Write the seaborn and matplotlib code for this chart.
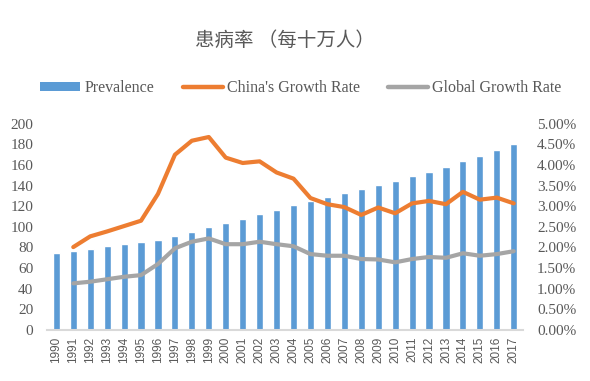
import numpy as np
import pandas as pd
import matplotlib
matplotlib.use("Agg")
import matplotlib.pyplot as plt
import seaborn as sns
from matplotlib.patches import Patch
from matplotlib.lines import Line2D
from matplotlib.ticker import PercentFormatter, MultipleLocator

years = list(range(1990, 2018))
prevalence = [75, 77, 79, 81, 83, 85, 87.5, 91.3, 95.1, 100, 103.9, 107.8, 112.6, 116.5,
              121.4, 125.5, 129, 133, 137, 141, 144.7, 149.5, 153.4, 158.3, 164, 169, 174.8, 180]
china_growth = [np.nan, 2.01, 2.27, 2.39, 2.52, 2.65, 3.30, 4.25, 4.59, 4.68, 4.18, 4.05, 4.09, 3.82,
                3.67, 3.20, 3.05, 2.98, 2.79, 2.97, 2.83, 3.07, 3.13, 3.05, 3.35, 3.16, 3.21, 3.07]
global_growth = [np.nan, 1.13, 1.17, 1.23, 1.29, 1.33, 1.60, 1.98, 2.14, 2.22, 2.08, 2.08, 2.14, 2.08,
                 2.03, 1.84, 1.80, 1.80, 1.72, 1.71, 1.64, 1.72, 1.77, 1.75, 1.86, 1.80, 1.84, 1.91]
title = "患病率 （每十万人）"
labels = ["Prevalence", "China's Growth Rate", "Global Growth Rate"]

df = pd.DataFrame({"year": years, "prev": prevalence,
                   "china": china_growth, "glob": global_growth})

sns.set_theme(style="white")
plt.rcParams['font.family'] = ['Liberation Serif', 'Noto Sans CJK SC', 'DejaVu Sans']

BLUE = "#5B9BD5"
ORANGE = "#ED7D31"
GRAY = "#A5A5A5"
TXT = "#595959"

fig = plt.figure(figsize=(5.9, 3.81), dpi=100)
ax = fig.add_axes([0.0797, 0.134, 0.8068, 0.541])
ax2 = ax.twinx()

sns.barplot(data=df, x="year", y="prev", native_scale=True, width=0.42,
            color=BLUE, saturation=1, ax=ax, zorder=2)
sns.lineplot(data=df, x="year", y="china", color=ORANGE, lw=3.0, ax=ax2,
             solid_capstyle="round", solid_joinstyle="round")
sns.lineplot(data=df, x="year", y="glob", color=GRAY, lw=3.0, ax=ax2,
             solid_capstyle="round", solid_joinstyle="round")

ax.set_xlim(1989.45, 2017.55)
ax.set_ylim(0, 200)
ax2.set_ylim(0, 5)
ax.yaxis.set_major_locator(MultipleLocator(20))
ax2.yaxis.set_major_locator(MultipleLocator(0.5))
ax2.yaxis.set_major_formatter(PercentFormatter(decimals=2))
ax.set_xticks(years)
ax.set_xticklabels([str(y) for y in years], rotation=90, fontsize=8.5, color=TXT,
                   family=['Liberation Sans', 'DejaVu Sans'])
for a in (ax, ax2):
    a.set_xlabel("")
    a.set_ylabel("")
    for s in a.spines.values():
        s.set_visible(False)
    a.tick_params(length=0, labelsize=11, colors=TXT, pad=2)
ax.tick_params(axis='x', labelsize=8.5, pad=5)
ax.tick_params(axis='y', pad=10)
ax2.tick_params(axis='y', pad=10)
ax.spines['bottom'].set_visible(True)
ax.spines['bottom'].set_color("#D9D9D9")
ax.spines['bottom'].set_linewidth(1.5)
ax.grid(False)
ax2.grid(False)

fig.text(0.483, 1 - 40.7/381, title, ha="center", va="center", fontsize=14,
         color=TXT, family=['Noto Sans CJK SC', 'DejaVu Sans'])

handles = [Patch(facecolor=BLUE, edgecolor='none'),
           Line2D([], [], color=ORANGE, lw=3.2, solid_capstyle="round"),
           Line2D([], [], color=GRAY, lw=3.2, solid_capstyle="round")]
fig.legend(handles, labels, loc="center", bbox_to_anchor=(0.510, 1 - 88/381), ncol=3,
           frameon=False, fontsize=11.5, labelcolor=TXT, handlelength=2.5,
           handleheight=0.5, handletextpad=0.25, columnspacing=1.8)

fig.savefig("out.png", dpi=100)
